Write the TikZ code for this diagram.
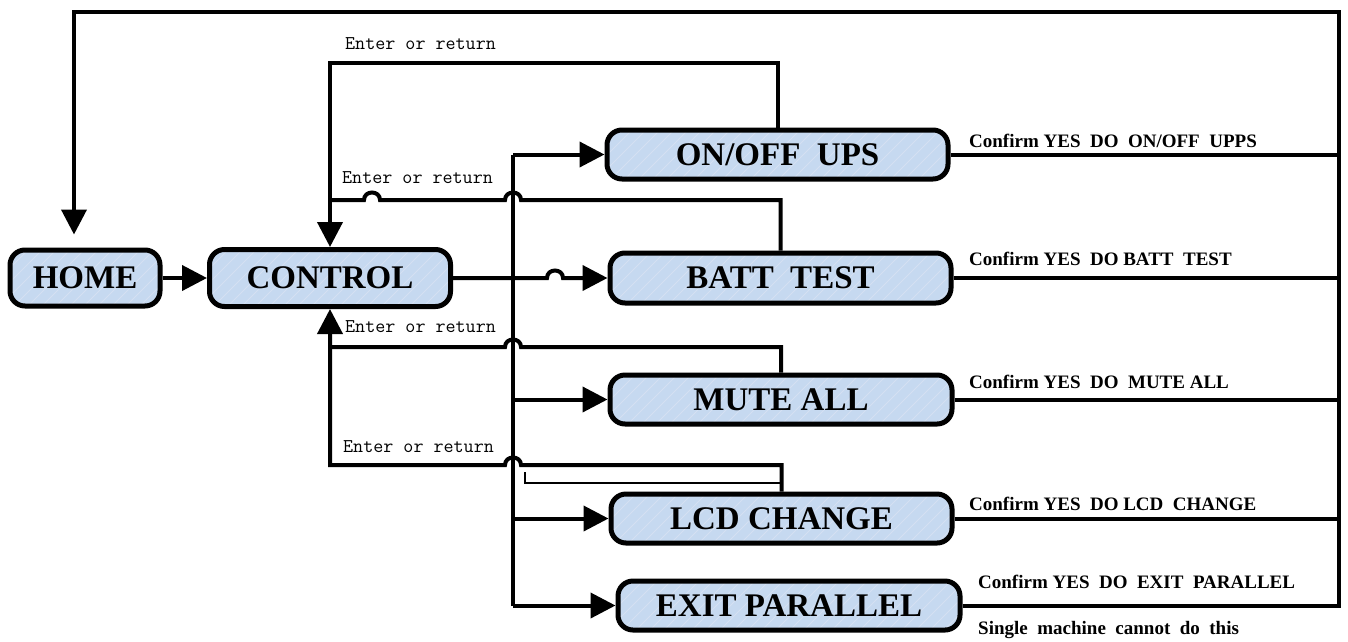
\documentclass[tikz,border=0pt]{standalone}
\usepackage{fontspec}
\setmainfont{Liberation Serif}
\usetikzlibrary{arrows.meta,calc}
\definecolor{boxfill}{RGB}{198,217,240}
\definecolor{hatchc}{RGB}{212,224,242}
\begin{document}
\begin{tikzpicture}[x=1pt,y=-1pt,
  box/.style={draw, line width=5pt, rounded corners=15pt, fill=boxfill, inner sep=0pt,
    font=\bfseries\fontsize{33}{36}\selectfont,
    path picture={\foreach \i in {-80,-66,...,420} \draw[hatchc,line width=0.8pt] ($(path picture bounding box.south west)+(\i,0)$) -- ++(70,-70);}},
  conn/.style={line width=4pt},
  thin/.style={line width=1.5pt},
  arr/.style={conn,-{Triangle[length=25pt,width=25pt]}},
  lbl/.style={font=\ttfamily\fontsize{19.5}{22}\selectfont, anchor=west, inner sep=0pt},
  cfm/.style={font=\bfseries\fontsize{19}{21}\selectfont, anchor=west, inner sep=0pt}]
\useasboundingbox (0,0) rectangle (1348,641);

% nodes
\node[box, minimum width=150pt, minimum height=56pt] (home) at (85,278) {HOME};
\node[box, minimum width=241pt, minimum height=57pt] (ctrl) at (330,278) {CONTROL};
\node[box, minimum width=341pt, minimum height=49pt] (onoff) at (777.5,154.5) {ON/OFF\ \ UPS};
\node[box, minimum width=341pt, minimum height=50pt] (batt) at (780.5,278) {BATT\ \ TEST};
\node[box, minimum width=342pt, minimum height=49pt] (mute) at (781,399.5) {MUTE ALL};
\node[box, minimum width=341pt, minimum height=49pt] (lcd) at (781.5,518.5) {LCD CHANGE};
\node[box, minimum width=342pt, minimum height=49pt] (exitp) at (789,605.5) {EXIT PARALLEL};

% helper coordinates
\coordinate (tl) at (74,12);
\coordinate (tr) at (1339,12);
\coordinate (bus) at (513,0);
\coordinate (l1) at (330,63);

% home -> control
\draw[arr] (home.east) -- (ctrl.west);
% control -> batt test
\draw[arr] (ctrl.east) -- (547,278) .. controls (547,268) and (563,268) .. (563,278) -- (batt.west);

% bus
\draw[conn] (onoff.west -| bus) -- (exitp.west -| bus);
\draw[arr] (onoff.west -| bus) -- (onoff.west);
\draw[arr] (mute.west -| bus) -- (mute.west);
\draw[arr] (lcd.west -| bus) -- (lcd.west);
\draw[arr] (exitp.west -| bus) -- (exitp.west);

% return loops
\draw[arr] (onoff.north) |- (l1) -- (ctrl.north);
\draw[conn] (batt.north) |- (521,200) .. controls (521,190) and (505,190) .. (505,200)
  -- (380,200) .. controls (380,190) and (364,190) .. (364,200) -- (330,200);
\draw[arr] (mute.north) |- (521,347) .. controls (521,337) and (505,337) .. (505,347)
  -- (330,347) -- (ctrl.south);
\draw[conn] (lcd.north) |- (521,465) .. controls (521,455) and (505,455) .. (505,465)
  -- (330,465) -- (330,347);
\draw[thin] (525,472) -- (525,483) -- (782,483);
\draw[thin] (512,443) -- (512,458);

% confirm lines to the right
\draw[conn] (onoff.east) -- (onoff.east -| tr);
\draw[conn] (batt.east) -- (batt.east -| tr);
\draw[conn] (mute.east) -- (mute.east -| tr);
\draw[conn] (lcd.east) -- (lcd.east -| tr);
\draw[arr, shorten >=13pt] (exitp.east) -- (exitp.east -| tr) -- (tr) -- (tl) -- (tl |- home.north);

% labels
\node[lbl] (e1) at (345,44) {Enter or return};
\node[lbl] (e2) at (342,178) {Enter or return};
\node[lbl] (e3) at (345,327) {Enter or return};
\node[lbl] (e4) at (343,447) {Enter or return};

\node[cfm] (c1) at (969,141) {Confirm YES\ \ DO\ \ ON/OFF\ \ UPPS};
\node[cfm] (c2) at (969,259) {Confirm YES\ \ DO BATT\ \ TEST};
\node[cfm] (c3) at (969,382) {Confirm YES\ \ DO\ \ MUTE ALL};
\node[cfm] (c4) at (969,504) {Confirm YES\ \ DO LCD\ \ CHANGE};
\node[cfm] (c5) at (978,582) {Confirm YES\ \ DO\ \ EXIT\ \ PARALLEL};
\node[cfm] (c6) at (978,630) {Single\ \ machine\ \ cannot\ \ do\ \ this};
\end{tikzpicture}
\end{document}
